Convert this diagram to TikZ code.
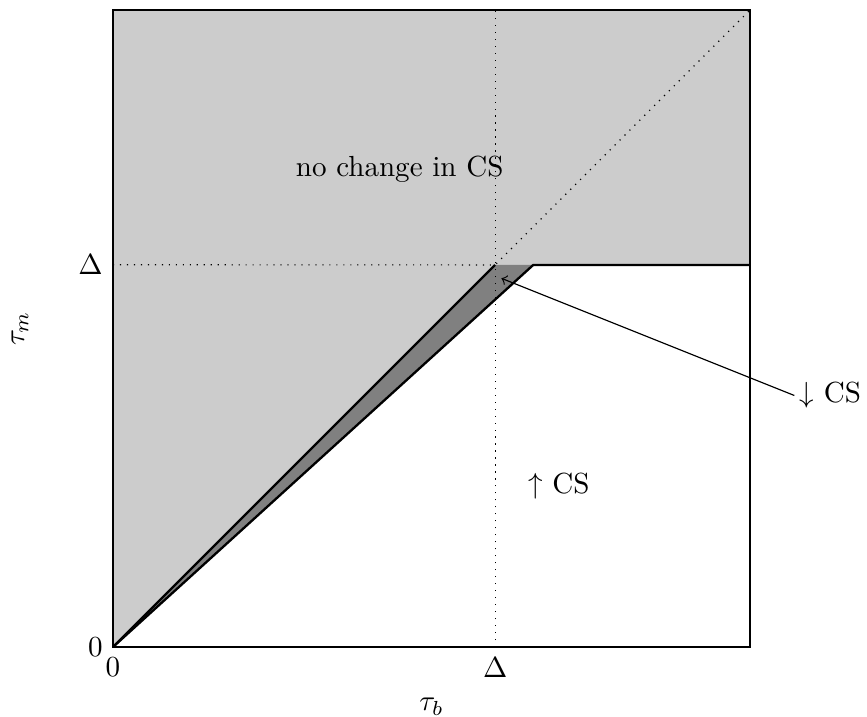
\documentclass[tikz,border=0pt]{standalone}
\begin{document}
\begin{tikzpicture}[scale=7.7]
	\useasboundingbox (-0.1774,-0.1099) rectangle (1.1837,1.0157);
	% Puntos
	\coordinate (O) at (0,0);
	\coordinate (D) at (0.6,0.6);
	\coordinate (E) at (0.66,0.6);
	\coordinate (R) at (1,0.6);
	\coordinate (T) at (1,1);
	\coordinate (tip) at (0.61,0.579);
	
	% Regiones
	\fill[gray!40] (O) -- (D) -- (R) -- (T) -- (0,1) -- cycle;
	\fill[gray] (O) -- (D) -- (E) -- cycle;
	
	% Lineas punteadas
	\draw[dotted] (0.6,0) -- (0.6,1);
	\draw[dotted] (0,0.6) -- (D) -- (T);
	
	% Fronteras
	\draw[thick] (O) -- (D);
	\draw[thick] (O) -- (E) -- (R);
	\draw[thick] (0,0) rectangle (1,1);
	
	% Ejes
	\node[left] (y0) at (O) {$0$};
	\node[below] (x0) at (O) {$0$};
	\node[left] (yD) at (0,0.6) {$\Delta$};
	\node[below] (xD) at (0.6,0) {$\Delta$};
	\node[rotate=90] (ym) at (-0.146,0.5) {$\tau_m$};
	\node (xb) at (0.5,-0.094) {$\tau_b$};
	
	% Regiones
	\node (nochange) at (0.45,0.75) {no change in CS};
	\node (up) at (0.7,0.252) {$\uparrow$ CS};
	\node[anchor=west, inner sep=1.5pt] (down) at (1.07,0.395) {$\downarrow$ CS};
	\draw[->] (down.west) -- (tip);
\end{tikzpicture}
\end{document}
